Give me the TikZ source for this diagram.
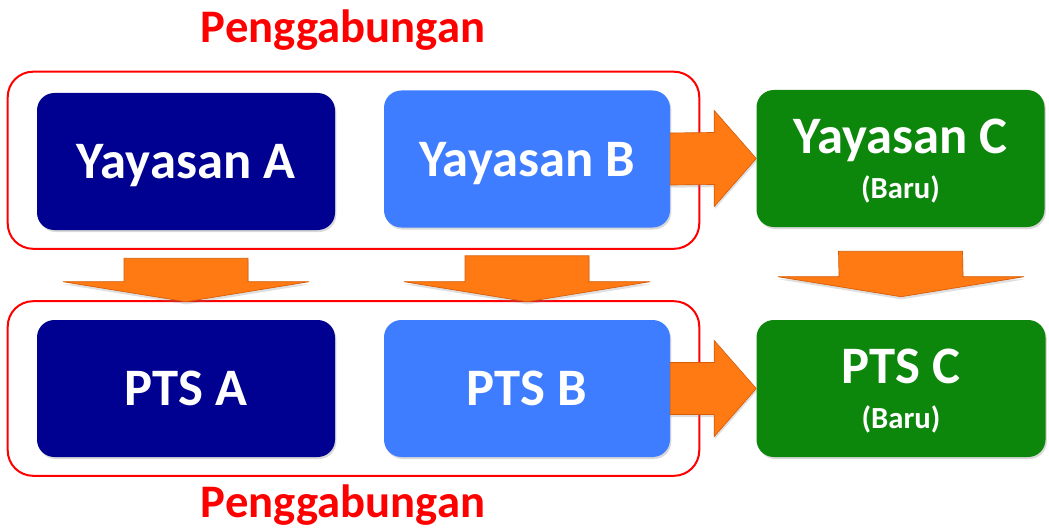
\documentclass[tikz,border=0pt]{standalone}
\usepackage{fontspec}
\setmainfont{Carlito}
\usepackage{tikz}
\usetikzlibrary{calc,fit,shadows,positioning}

\definecolor{biruTua}{RGB}{0,0,145}
\definecolor{biruMuda}{RGB}{62,125,255}
\definecolor{hijau}{RGB}{12,135,12}
\definecolor{oranye}{RGB}{255,122,18}
\definecolor{oranyeTepi}{RGB}{214,92,8}
\definecolor{merah}{RGB}{255,0,0}

\newcommand{\kecil}{\fontsize{23}{34}\selectfont}

% block arrows, from start point to tip
\newcommand{\panahkanan}[2]{%
  \filldraw[panah] ($(#1)+(0,-26)$) -- ($(#2)+(-42,-26)$) -- ($(#2)+(-42,-48)$) -- (#2)
    -- ($(#2)+(-42,48)$) -- ($(#2)+(-42,26)$) -- ($(#1)+(0,26)$) -- cycle;}
\newcommand{\panahbawah}[2]{%
  \filldraw[panah] ($(#1)+(-62,0)$) -- ($(#2)+(-62,-20)$) -- ($(#2)+(-123,-20)$) -- (#2)
    -- ($(#2)+(123,-20)$) -- ($(#2)+(62,-20)$) -- ($(#1)+(62,0)$) -- cycle;}

\begin{document}
\begin{tikzpicture}[x=0.75pt,y=-0.75pt,
  kotak/.style={rounded corners=13pt, minimum height=102.75pt, text=white,
    font=\fontsize{39.5}{34}\selectfont\bfseries, align=center, text depth=0pt,
    drop shadow={opacity=0.3,shadow xshift=1pt,shadow yshift=-1.5pt}},
  bingkai/.style={draw=merah, line width=1.5pt, rounded corners=19pt,
    inner xsep=21.75pt, inner ysep=13.9pt},
  judul/.style={text=merah, font=\fontsize{35}{40}\selectfont\bfseries, inner sep=0pt},
  panah/.style={fill=oranye, draw=oranyeTepi, line width=0.5pt, line join=miter,
    drop shadow={opacity=0.25,shadow xshift=0.5pt,shadow yshift=-2pt}}]
\useasboundingbox (0,0) rectangle (1049,528);

% Yayasan
\node[kotak, fill=biruTua, minimum width=223.5pt] (ya) at (186,161.5) {Yayasan A};
\node[kotak, fill=biruMuda, minimum width=214.5pt] (yb) at (527,159) {Yayasan B};
\node[kotak, fill=hijau, minimum width=216pt] (yc) at (900.5,158.5) {Yayasan C\\{\kecil (Baru)}};

% PTS
\node[kotak, fill=biruTua, minimum width=223.5pt] (pa) at (186,388.5) {PTS A};
\node[kotak, fill=biruMuda, minimum width=214.5pt] (pb) at (527,388.5) {PTS B};
\node[kotak, fill=hijau, minimum width=216.75pt] (pc) at (901,388.5) {PTS C\\{\kecil (Baru)}};

% bingkai penggabungan
\node[bingkai, fit=(ya)(yb)] (gabungAtas) {};
\node[bingkai, fit=(pa)(pb)] (gabungBawah) {};
\node[judul, anchor=base] (judulAtas) at (343,43) {Penggabungan};
\node[judul, anchor=base] (judulBawah) at (343,517) {Penggabungan};

% panah
\coordinate (a1) at ($(ya.south)+(0,28)$);
\coordinate (a2) at ($(pa.north)+(0,-18)$);
\coordinate (b1) at ($(yb.south)+(0,28)$);
\coordinate (b2) at ($(pb.north)+(0,-18)$);
\coordinate (c1) at ($(yc.south)+(0,24)$);
\coordinate (c2) at ($(pc.north)+(0,-23)$);
\panahbawah{a1}{a2}
\panahbawah{b1}{b2}
\panahbawah{c1}{c2}
\panahkanan{yb.east}{yc.west}
\panahkanan{pb.east}{pc.west}
\end{tikzpicture}
\end{document}
